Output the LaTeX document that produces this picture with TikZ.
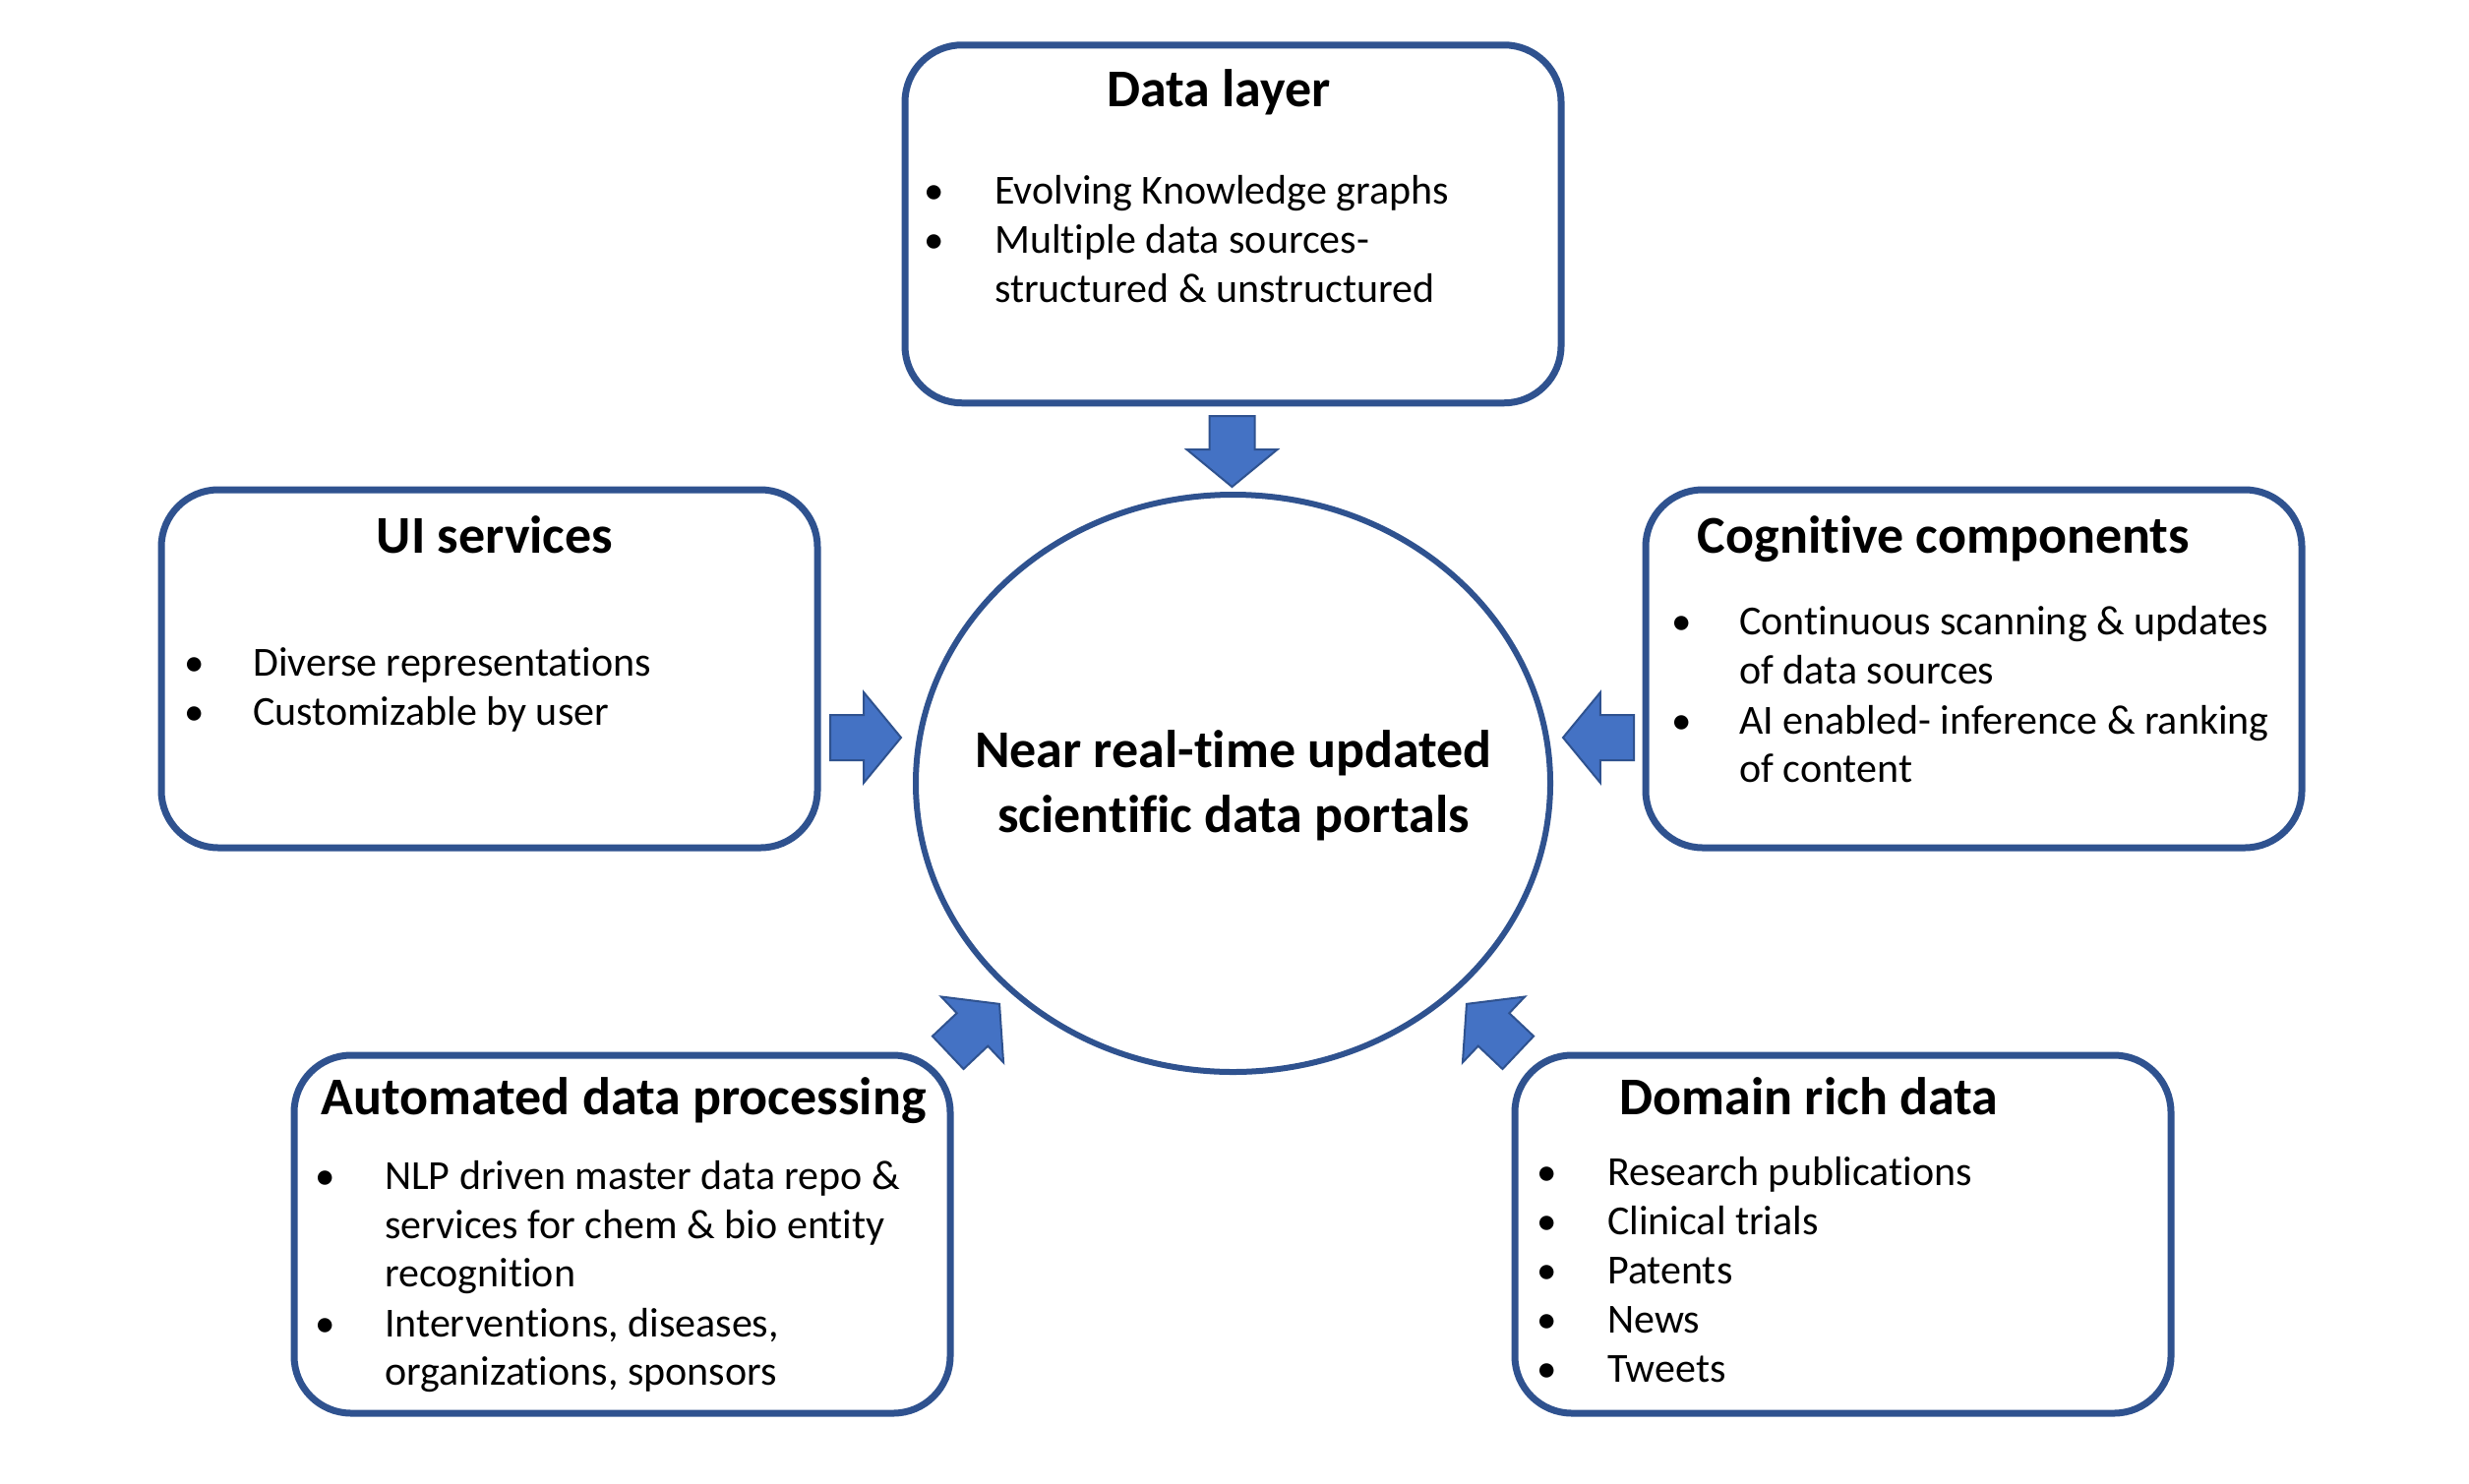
\documentclass[tikz,border=0pt]{standalone}
\usepackage{fontspec}
\setmainfont{Carlito}[Ligatures=NoCommon]
\usetikzlibrary{shapes.geometric,shapes.arrows}
\definecolor{boxline}{HTML}{2F528F}
\definecolor{arrfill}{HTML}{4472C4}
\begin{document}
\begin{tikzpicture}[x=1pt,y=-1pt,
  panel/.style={draw=boxline, line width=7pt, rounded corners=58pt, minimum width=667pt, minimum height=364pt, inner sep=0pt},
  hub/.style={ellipse, draw=boxline, line width=6pt, minimum width=645pt, minimum height=587pt, inner sep=0pt},
  blk/.style={single arrow, draw=boxline, fill=arrfill, line width=2pt, inner xsep=0pt, inner ysep=22pt, single arrow head extend=23pt, single arrow tip angle=101, minimum height=72pt, anchor=tail},
  ttl/.style={font=\fontsize{54}{66}\selectfont\bfseries, inner sep=0pt, anchor=base},
  txt/.style={font=\fontsize{42}{50}\selectfont, inner sep=0pt, anchor=base west},
  bul/.style={font=\fontsize{41}{50}\selectfont, inner sep=0pt, anchor=base}]
\fill[white] (0,0) rectangle (2510,1508);
\useasboundingbox (0,0) rectangle (2510,1508);

% panels
\node[panel] (data) at (1253.5,227.75) {};
\node[panel] (ui)   at (497.5,680) {};
\node[panel] (cog)  at (2006.5,680) {};
\node[panel] (auto) at (632.5,1255) {};
\node[panel] (dom)  at (1873.5,1255) {};
\node[hub]   (hub)  at (1253.5,796.5) {};

% block arrows
\node[blk, rotate=-90]   (aData) at (1252.5,422) {};
\node[blk, rotate=0]     (aUI)   at (843,750) {};
\node[blk, rotate=180]   (aCog)  at (1662,750) {};
\node[blk, rotate=43.4]  (aAuto) at (963,1071) {};
\node[blk, rotate=136.6] (aDom)  at (1544,1071) {};

% centre text
\node[ttl] (h1) at (1254,780) {Near real-time updated};
\node[ttl] (h2) at (1254,846) {scientific data portals};

% Data layer
\node[ttl] (dT) at (1239,108) {Data layer};
\node[bul] (dB1) at (950,207) {•};
\node[txt] (d1) at (1011,207) {Evolving Knowledge graphs};
\node[bul] (dB2) at (950,257) {•};
\node[txt] (d2) at (1011,257) {Multiple data sources-};
\node[txt] (d3) at (1011,307) {structured \& unstructured};

% UI services
\node[ttl] (uT) at (503,562) {UI services};
\node[bul] (uB1) at (198,687) {•};
\node[txt] (u1) at (257,687) {Diverse representations};
\node[bul] (uB2) at (198,737) {•};
\node[txt] (u2) at (257,737) {Customizable by user};

% Cognitive components
\node[ttl] (cT) at (1976,562) {Cognitive components};
\node[bul] (cB1) at (1710,645) {•};
\node[txt] (c1) at (1768,645) {Continuous scanning \& updates};
\node[txt] (c2) at (1768,695) {of data sources};
\node[bul] (cB2) at (1710,746) {•};
\node[txt] (c3) at (1768,746) {AI enabled- inference \& ranking};
\node[txt] (c4) at (1768,795) {of content};

% Automated data processing
\node[ttl] (aT) at (634,1133) {Automated data processing};
\node[bul] (aB1) at (331,1209) {•};
\node[txt] (a1) at (391,1209) {NLP driven master data repo \&};
\node[txt] (a2) at (391,1259) {services for chem \& bio entity};
\node[txt] (a3) at (391,1308) {recognition};
\node[bul] (aB2) at (331,1359) {•};
\node[txt] (a4) at (391,1359) {Interventions, diseases,};
\node[txt] (a5) at (391,1408) {organizations, sponsors};

% Domain rich data
\node[ttl] (rT) at (1839,1133) {Domain rich data};
\node[bul] (rB1) at (1573,1205) {•};
\node[txt] (r1) at (1634,1205) {Research publications};
\node[bul] (rB2) at (1573,1255) {•};
\node[txt] (r2) at (1634,1255) {Clinical trials};
\node[bul] (rB3) at (1573,1305) {•};
\node[txt] (r3) at (1634,1305) {Patents};
\node[bul] (rB4) at (1573,1355) {•};
\node[txt] (r4) at (1634,1355) {News};
\node[bul] (rB5) at (1573,1405) {•};
\node[txt] (r5) at (1634,1405) {Tweets};
\end{tikzpicture}
\end{document}
